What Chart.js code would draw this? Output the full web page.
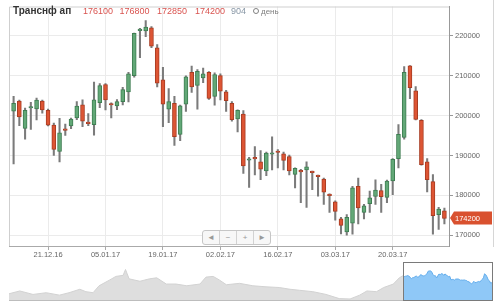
<!DOCTYPE html>
<html>
<head>
<meta charset="utf-8">
<script src="https://cdn.jsdelivr.net/npm/chart.js@4.4.1/dist/chart.umd.min.js"></script>
<style>
  html, body { margin:0; padding:0; background:#fff; }
  #wrap { position:relative; width:500px; height:305px; overflow:hidden; font-family:"Liberation Sans", Arial, sans-serif; }
  #main { position:absolute; left:0; top:0; }
  #nav { position:absolute; left:0; top:261px; }
  .hd { position:absolute; top:7px; font-size:9px; line-height:9px; color:#d9534f; white-space:nowrap; }
  #title { position:absolute; left:13px; top:6px; font-size:10px; line-height:10px; font-weight:bold; color:#333; }
  #clock { position:absolute; left:253px; top:8px; width:4px; height:4px; border:1.5px solid #808080; border-radius:50%; }
  #period { position:absolute; left:261px; top:7px; font-size:8px; line-height:9px; color:#808080; }
  #edge { position:absolute; left:493px; top:0; width:1px; height:247px; background:#d6d6d6; }
  #btns { position:absolute; left:202px; top:230px; height:13px; display:flex; border:1px solid #c6c6c6; border-radius:3px; background:#f7f7f7; }
  #btns span { width:16px; height:13px; line-height:13px; text-align:center; font-size:8px; color:#999; border-left:1px solid #d2d2d2; }
  #btns span:first-child { border-left:none; }
</style>
</head>
<body>
<div id="wrap">
  <canvas id="main" width="500" height="262"></canvas>
  <canvas id="nav" width="500" height="40"></canvas>
  <div id="edge"></div>
  <div id="title">Транснф ап</div>
  <div class="hd" style="left:83px">176100</div>
  <div class="hd" style="left:119.5px">176800</div>
  <div class="hd" style="left:157px">172850</div>
  <div class="hd" style="left:195px">174200</div>
  <div class="hd" style="left:231px;color:#8796a5">904</div>
  <div id="clock"></div>
  <div id="period">день</div>
  <div id="btns"><span>◄</span><span>−</span><span>+</span><span>►</span></div>
</div>
<script>
// daily candles, 76 sessions
const opens = [201100,203650,196800,201900,201700,203650,201300,197600,191000,196600,
  197400,199400,202700,198300,197700,203250,207800,202850,202400,203500,
  205950,210000,221300,221200,222000,217000,208950,201600,203100,195300,
  202850,210850,207550,209450,210850,204800,210000,205950,203100,199150,
  200400,188800,189350,188400,186100,190300,191100,190400,189750,185250,
  186100,186350,185950,184950,184050,180200,178400,174100,170800,173000,
  182250,175700,177900,179700,181200,179450,183600,189200,194500,212500,
  206200,198800,188400,183450,175150,176100];
const highs = [204800,203900,201900,203300,204400,203900,201600,198100,199300,197900,
  199400,203500,203950,200500,208400,208000,208000,203200,204000,207100,
  210850,220700,221900,223800,222300,217800,212100,206750,204800,202650,
  209950,212400,211550,211900,211050,210700,210450,206350,203500,201450,
  201250,189550,192250,191250,190850,194700,191450,190850,190100,186900,
  186550,188400,186100,185100,184300,180350,178600,174500,175150,182250,
  184300,177750,181050,183900,182750,183850,189200,197750,212300,212550,
  207250,199000,189200,185200,177000,176800];
const lows = [187900,197450,194100,196500,198900,200600,197400,190000,188400,195000,
  196700,199000,197200,197500,195100,202000,201400,199400,201500,202700,
  203450,209600,214500,219800,217000,207200,197200,198200,192500,193700,
  201050,205800,201600,208250,204050,202600,203900,201050,198600,195900,
  185500,182000,185100,183900,184950,186350,186900,186350,185100,181850,
  178150,176950,181450,179800,177750,175700,173800,170300,170000,170250,
  172850,174100,175700,177750,175700,178150,180200,186850,194100,204250,
  198900,187550,180850,170250,171450,172850];
const closes = [203100,199650,201300,202100,203900,201400,197600,191500,195700,196300,
  199100,202400,198600,198000,203950,207500,203900,202650,203500,206500,
  210450,220600,221600,222200,217400,208150,202850,203500,194700,202450,
  209700,207200,211100,210450,204300,210300,206100,203750,199000,201300,
  187400,189050,189150,186550,190600,190500,190750,188750,186100,186750,
  185900,187150,185700,184700,180800,179950,175950,172450,174500,181900,
  176850,177350,179400,181300,179650,183600,189050,195300,210850,207000,
  199050,187700,183900,174900,176550,174200];

const xTickIdx = [6, 16, 26, 36, 46, 56, 66];
const xTickLabels = ["21.12.16", "05.01.17", "19.01.17", "02.02.17", "16.02.17", "03.03.17", "20.03.17"];
const yTicks = [170000, 180000, 190000, 200000, 210000, 220000];

// navigator: older history (session offset from first candle, close)
const navHistX = [-328,-319,-308,-297,-286,-278,-269,-264,-258,-253,-244,-239,-233,-231,-228,-219,-211,-205,
  -197,-189,-180,-169,-164,-158,-153,-147,-136,-125,-114,-103,-94,-86,-75,-64,-53,-44,-36,-30,-22,-16,-8,-3];
const navHistY = [134000,144700,131400,138000,128700,138000,151300,142000,138000,164700,187300,200700,204700,227300,191300,182000,191300,195300,
  171300,171300,164700,171300,198000,200700,187300,168700,174000,164700,160700,158000,151300,147300,142000,131400,115400,114000,128700,144700,142000,158000,171300,195300];

const GREEN = "#62a877", GREEN_EDGE = "#3f7d52";
const RED = "#dd5534", RED_EDGE = "#a83c22";

Chart.defaults.font.family = '"Liberation Sans", Arial, sans-serif';

const up = closes.map((c, i) => c >= opens[i]);

const frame = {
  id: "frame",
  beforeDatasetsDraw(chart) {
    const { ctx, chartArea: a } = chart;
    ctx.save();
    ctx.strokeStyle = "#cfcfcf";
    ctx.lineWidth = 1;
    ctx.beginPath();
    ctx.moveTo(a.left + 0.5, a.bottom);
    ctx.lineTo(a.left + 0.5, a.top + 0.5);
    ctx.lineTo(a.right, a.top + 0.5);
    ctx.stroke();
    ctx.restore();
  },
  afterDraw(chart) {
    // last price tag on the right axis
    const { ctx, chartArea: a } = chart;
    const last = closes[closes.length - 1];
    const y = Math.round(chart.scales.y.getPixelForValue(last));
    const x0 = a.right + 1, x1 = 492;
    ctx.save();
    ctx.fillStyle = "#d9512f";
    ctx.beginPath();
    ctx.moveTo(x0, y);
    ctx.lineTo(x0 + 4, y - 6.5);
    ctx.lineTo(x1, y - 6.5);
    ctx.lineTo(x1, y + 6.5);
    ctx.lineTo(x0 + 4, y + 6.5);
    ctx.closePath();
    ctx.fill();
    ctx.fillStyle = "#fff";
    ctx.font = '7.5px "Liberation Sans", Arial, sans-serif';
    ctx.textBaseline = "middle";
    ctx.fillText(String(last), x0 + 5, y + 0.5);
    ctx.restore();
  }
};

new Chart(document.getElementById("main"), {
  type: "bar",
  data: {
    datasets: [
      {
        label: "body",
        order: 1,
        data: opens.map((o, i) => ({ x: i, y: [o, closes[i]] })),
        backgroundColor: up.map(u => u ? GREEN : RED),
        borderColor: up.map(u => u ? GREEN_EDGE : RED_EDGE),
        borderWidth: 1,
        borderSkipped: false,
        barThickness: 4,
        minBarLength: 1.5,
        grouped: false
      },
      {
        label: "wick",
        order: 2,
        data: lows.map((l, i) => ({ x: i, y: [l, highs[i]] })),
        backgroundColor: "#7b7b7b",
        borderWidth: 0,
        barThickness: 1.4,
        grouped: false
      }
    ]
  },
  options: {
    responsive: false,
    animation: false,
    layout: { padding: { left: 9, top: 1, right: 0, bottom: 0 } },
    plugins: { legend: { display: false }, tooltip: { enabled: false } },
    scales: {
      x: {
        type: "linear",
        offset: false,
        min: -0.8,
        max: 75.8,
        afterBuildTicks: s => { s.ticks = xTickIdx.map(v => ({ value: v })); },
        afterFit: s => { s.height = 16; },
        ticks: {
          autoSkip: false, maxRotation: 0, padding: 0,
          color: "#666", font: { size: 7.5 },
          callback: v => xTickLabels[xTickIdx.indexOf(v)]
        },
        grid: { offset: false, color: "#ebebeb", tickLength: 4, tickColor: "#aaa" },
        border: { color: "#aaa" }
      },
      y: {
        position: "right",
        min: 167300,
        max: 227350,
        afterBuildTicks: s => { s.ticks = yTicks.map(v => ({ value: v })); },
        afterFit: s => { s.width = 51; },
        ticks: { padding: 2, color: "#666", font: { size: 7.5 }, callback: v => String(v) },
        grid: { color: "#ebebeb", tickLength: 4, tickColor: "#999" },
        border: { color: "#999" }
      }
    }
  },
  plugins: [frame]
});

const navWindow = {
  id: "navWindow",
  afterDatasetsDraw(chart) {
    const { ctx, chartArea: a } = chart;
    const xs = chart.scales.x.getPixelForValue(0);
    ctx.save();
    ctx.strokeStyle = "#bdbdbd";
    ctx.beginPath();
    ctx.moveTo(a.left, a.bottom + 0.5);
    ctx.lineTo(a.right, a.bottom + 0.5);
    ctx.stroke();
    ctx.strokeStyle = "#7a7a7a";
    ctx.strokeRect(Math.round(xs) + 0.5, a.top + 0.5, Math.round(a.right - xs) - 1, a.bottom - a.top);
    ctx.restore();
  }
};

const histPts = navHistX.map((x, i) => ({ x, y: navHistY[i] }));
histPts.push({ x: 0, y: closes[0] });

new Chart(document.getElementById("nav"), {
  type: "line",
  data: {
    datasets: [
      {
        data: histPts,
        fill: "start",
        backgroundColor: "#dedede",
        borderColor: "#d2d2d2",
        borderWidth: 1,
        pointRadius: 0,
        tension: 0
      },
      {
        data: closes.map((c, i) => ({ x: i, y: c })),
        fill: "start",
        backgroundColor: "#8fc8f7",
        borderColor: "#63adec",
        borderWidth: 1,
        pointRadius: 0,
        tension: 0
      }
    ]
  },
  options: {
    responsive: false,
    animation: false,
    layout: { padding: { left: 9, right: 7, top: 1, bottom: 1 } },
    plugins: { legend: { display: false }, tooltip: { enabled: false } },
    scales: {
      x: { type: "linear", min: navHistX[0], max: 75, display: false },
      y: { min: 110000, max: 256000, display: false }
    }
  },
  plugins: [navWindow]
});
</script>
</body>
</html>
